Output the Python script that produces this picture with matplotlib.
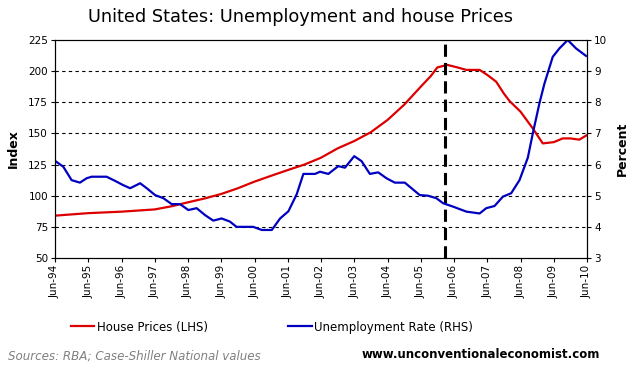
import numpy as np
from matplotlib import pyplot as plt

# house prices (LHS, index)
hp_dates = [1994.5, 1995.5, 1996.5, 1997.5, 1998.0, 1998.5, 1999.0, 1999.5, 2000.0,
            2000.5, 2001.0, 2001.5, 2002.0, 2002.5, 2003.0, 2003.5, 2004.0, 2004.5,
            2005.0, 2005.5, 2005.8, 2006.0, 2006.3, 2006.6, 2006.87, 2007.27, 2007.5,
            2007.77, 2008.0, 2008.17, 2008.5, 2008.87, 2009.17, 2009.5, 2009.77,
            2010.0, 2010.27, 2010.5]
hp_vals = [84, 86, 87.2, 89, 91.5, 94.7, 97.8, 101.4, 106,
           111.3, 116, 120.6, 125, 130.5, 138, 143.9, 151, 160.8,
           173, 187.5, 196, 203, 205, 203, 201, 201, 197,
           191.5, 182, 176, 167.5, 154, 142, 143, 146,
           146, 145, 148.7]

# unemployment rate (RHS, percent)
ur_dates = [1994.5, 1994.75, 1995.0, 1995.25, 1995.45, 1995.6, 1996.05, 1996.3, 1996.55,
            1996.76, 1997.06, 1997.26, 1997.51, 1997.76, 1998.01, 1998.26, 1998.51,
            1998.76, 1999.01, 1999.26, 1999.51, 1999.76, 1999.96, 2000.46, 2000.72,
            2001.02, 2001.27, 2001.52, 2001.77, 2001.97, 2002.32, 2002.47, 2002.72,
            2003.02, 2003.22, 2003.5, 2003.72, 2003.97, 2004.22, 2004.47, 2004.72,
            2005.02, 2005.47, 2005.72, 2005.97, 2006.17, 2006.47, 2006.87, 2007.27,
            2007.47, 2007.72, 2007.97, 2008.22, 2008.47, 2008.72, 2008.87, 2009.07,
            2009.22, 2009.47, 2009.67, 2009.92, 2010.17, 2010.47]
ur_vals = [6.12, 5.93, 5.5, 5.42, 5.56, 5.61, 5.61, 5.48, 5.34,
           5.24, 5.4, 5.24, 5.02, 4.92, 4.73, 4.73, 4.54,
           4.6, 4.38, 4.2, 4.27, 4.17, 4.0, 4.0, 3.9,
           3.9, 4.27, 4.5, 5.05, 5.7, 5.7, 5.77, 5.7,
           5.95, 5.9, 6.27, 6.11, 5.7, 5.75, 5.56, 5.42,
           5.42, 5.02, 5.0, 4.92, 4.76, 4.65, 4.49, 4.43,
           4.6, 4.67, 4.97, 5.08, 5.5, 6.22, 7.0, 7.97,
           8.6, 9.46, 9.73, 10.0, 9.73, 9.49]

tick_labels = ['Jun-%02d' % (y % 100) for y in range(1994, 2011)]
marker_date = 2006.23

fig = plt.figure(figsize=(6.28, 3.78), dpi=100)
ax = fig.add_axes([55/628, 1-258/378, 532/628, 218/378])

red = '#dd0000'
blue = '#0000c0'
l1, = ax.plot(hp_dates, hp_vals, color=red, lw=1.6, label='House Prices (LHS)')
ax.set_xlim(1994.5, 2010.5)
ax.set_ylim(50, 225)
ax.set_yticks(range(50, 226, 25))
ax.set_xticks(np.arange(1994.5, 2010.6, 1))
ax.set_xticklabels(tick_labels, rotation=90, fontsize=7.5)
ax.tick_params(axis='y', labelsize=7.5, length=3, pad=2)
ax.tick_params(axis='x', length=3, pad=2)
for v in range(75, 225, 25):
    ax.axhline(v, color='black', lw=0.8, ls=(0, (3, 3)), zorder=0)
ax.axvline(marker_date, color='black', lw=2.2, ls=(0, (4, 2)), zorder=3)
ax.set_ylabel('Index', fontsize=9, fontweight='bold', labelpad=6)

ax2 = ax.twinx()
l2, = ax2.plot(ur_dates, ur_vals, color=blue, lw=1.6, label='Unemployment Rate (RHS)')
ax2.set_ylim(3, 10)
ax2.set_yticks(range(3, 11))
ax2.tick_params(axis='y', labelsize=7.5, length=3, pad=2)
ax2.set_ylabel('Percent', fontsize=9, fontweight='bold', labelpad=6)

fig.text(300/628, 1-17/378, 'United States: Unemployment and house Prices',
         ha='center', va='center', fontsize=12.8)

fig.legend(handles=[l1, l2], loc='center left', bbox_to_anchor=(66/628, 1-327/378),
           ncol=2, frameon=False, fontsize=8.5, handlelength=2, handletextpad=0.2,
           columnspacing=6.8, borderaxespad=0)

fig.text(8/628, 1-356/378, 'Sources: RBA; Case-Shiller National values',
         ha='left', va='center', fontsize=8.6, style='italic', color='#808080')
fig.text(600/628, 1-354/378, 'www.unconventionaleconomist.com',
         ha='right', va='center', fontsize=8.5, fontweight='bold', color='black')

fig.savefig('out.png', dpi=100)
